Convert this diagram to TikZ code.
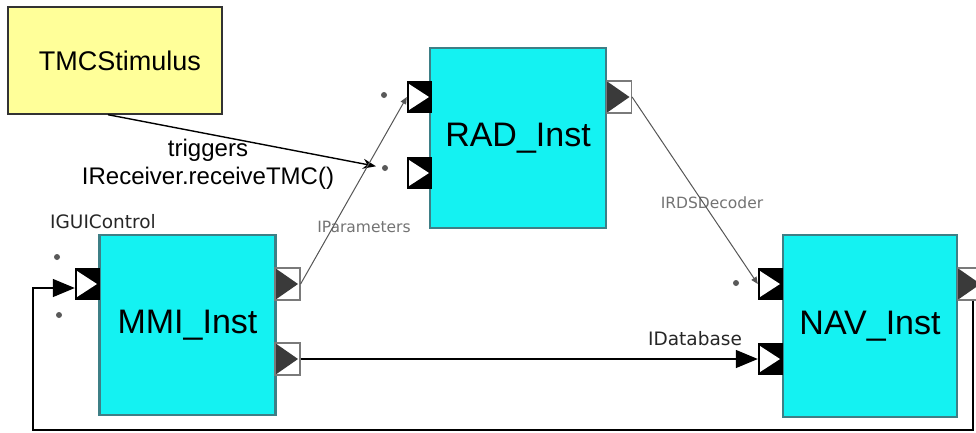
\documentclass[tikz,border=0pt]{standalone}
\usepackage{fontspec}
\setmainfont{Liberation Sans}
\newfontfamily\ifacefont{DejaVu Sans}
\usetikzlibrary{arrows.meta}

\definecolor{stimfill}{HTML}{FFFF99}
\definecolor{compfill}{HTML}{14F2F2}
\definecolor{compedge}{HTML}{3E7F86}
\definecolor{portedge}{HTML}{7A7A7A}
\definecolor{portdark}{HTML}{3A3A3A}
\definecolor{ifacegray}{HTML}{555555}

\tikzset{
  stim/.style={rectangle, draw=black!80, line width=1.4pt, fill=stimfill,
    minimum width=214pt, minimum height=107pt, inner sep=0pt,
    font=\fontsize{27}{32}\selectfont},
  comp/.style={rectangle, draw=compedge, line width=2.5pt, fill=compfill,
    minimum width=176pt, minimum height=180pt, inner sep=0pt,
    font=\fontsize{34}{40}\selectfont},
  inport/.style={rectangle, fill=black, minimum width=25pt, minimum height=32pt,
    inner sep=0pt,
    path picture={\fill[white]
      ([shift={(2pt,-3pt)}]path picture bounding box.north west) --
      ([shift={(-3pt,0pt)}]path picture bounding box.east) --
      ([shift={(2pt,3pt)}]path picture bounding box.south west) -- cycle;}},
  outport/.style={rectangle, draw=portedge, line width=1.2pt, fill=white,
    minimum width=25pt, minimum height=32pt, inner sep=0pt,
    path picture={\fill[portdark]
      (path picture bounding box.north west) --
      ([shift={(-2pt,0pt)}]path picture bounding box.east) --
      (path picture bounding box.south west) -- cycle;}},
  pin/.style={circle, fill=black!65, minimum size=6pt, inner sep=0pt},
  lbldark/.style={font=\ifacefont\fontsize{18.5}{20}\selectfont, text=black!85, inner sep=0pt},
  lblgray/.style={font=\ifacefont\fontsize{15.5}{17}\selectfont, text=black!55, inner sep=0pt},
  trig/.style={line width=1.4pt, -{Stealth[length=13pt,width=10pt]}},
  iface/.style={draw=ifacegray, line width=1pt, -{Triangle[length=7pt,width=6pt]}},
  bigwire/.style={line width=1.4pt, -{Triangle[length=22pt,width=18pt]}}
}

\begin{document}
\begin{tikzpicture}[x=1pt,y=-1pt]
\useasboundingbox (0,0) rectangle (976,432);

% stimulus and component instances
\node[stim] (tmc) at (115,60.5) {\hspace*{10pt}TMCStimulus};
\node[comp] (rad) at (518,138) {RAD\_Inst};
\node[comp] (mmi) at (187.5,325) {MMI\_Inst};
\node[comp, minimum width=174pt, minimum height=182pt] (nav) at (870,326) {NAV\_Inst};

% ports
\node[inport]  (mmiIn)   at (87.5,284) {};
\node[outport] (mmiOut1) at (287.5,284) {};
\node[outport] (mmiOut2) at (287.5,359) {};
\node[inport]  (radIn1)  at (419.5,97) {};
\node[inport]  (radIn2)  at (419.5,173) {};
\node[outport] (radOut)  at (619,97) {};
\node[inport]  (navIn1)  at (770.5,284) {};
\node[inport]  (navIn2)  at (770.5,359) {};
\node[outport] (navOut)  at (970,284) {};

% small connection pins beside the provided ports
\node[pin] (mmiPin1) at (57,257) {};
\node[pin] (mmiPin2) at (59,315) {};
\node[pin] (radPin1) at (384,95) {};
\node[pin] (radPin2) at (385,168) {};
\node[pin] (navPin)  at (736,283) {};

% interface labels
\node[lbldark] (lblGui) at (103,222) {IGUIControl};
\node[lbldark] (lblDb)  at (695,339) {IDatabase};
\node[lblgray] (lblPar) at (364,227) {IParameters};
\node[lblgray] (lblRds) at (712,203) {IRDSDecoder};
\node[align=center, font=\fontsize{24}{28}\selectfont, inner sep=0pt] (lblTrig)
  at (208,164) {triggers\\IReceiver.receiveTMC()};

% connectors
\draw[trig, shorten >=6pt] ([xshift=-7pt]tmc.south) -- (radPin2);
\draw[iface] (mmiOut1.east) -- (radIn1.west);
\draw[iface] (radOut.east) -- (navIn1.west);
\draw[bigwire] (mmiOut2.east) -- (navIn2.west);

\coordinate (loopLeft) at (33,430);
\draw[bigwire] ([xshift=3pt]navOut.south) |- (loopLeft) |- ([yshift=-4pt]mmiIn.west);
\end{tikzpicture}
\end{document}
